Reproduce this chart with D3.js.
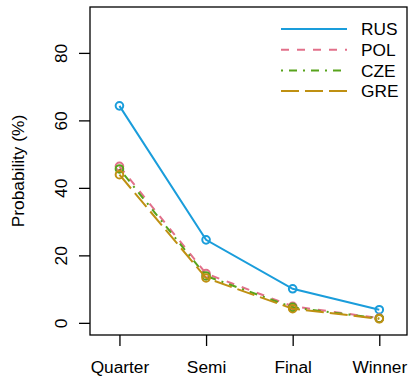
<!DOCTYPE html>
<html>
<head>
<meta charset="utf-8">
<script src="https://cdn.jsdelivr.net/npm/d3@7"></script>
<style>
  body { margin: 0; background: #fff; }
  text { font-family: "Liberation Sans", Arial, sans-serif; font-size: 17.3px; fill: #000; }
</style>
</head>
<body>
<svg id="chart" width="408" height="377"></svg>
<script>
// rounds on the x axis
const rounds = ['Quarter', 'Semi', 'Final', 'Winner']
const yTicks = [0, 20, 40, 60, 80]

// probabilities (%) per team
const rus = [64.3, 24.6, 10.1, 3.9]
const pol = [46.4, 14.6, 4.9, 1.4]
const cze = [45.6, 13.9, 4.6, 1.3]
const gre = [43.9, 13.3, 4.2, 1.2]

const teams = ['RUS', 'POL', 'CZE', 'GRE']
const colors = ['#1a9ddb', '#e2708a', '#58a31c', '#bf9012']
const dashes = [null, '8,8', '2,6,8,6', '18,6']
const series = [rus, pol, cze, gre]

const svg = d3.select('#chart')
const box = { left: 90, right: 407, top: 7, bottom: 335 }

const x = d3.scaleLinear()
  .domain([0.66, 4.32])
  .range([box.left, box.right])
const y = d3.scaleLinear()
  .domain([-3.6, 93.6])
  .range([box.bottom, box.top])

// plot frame
svg.append('rect')
  .attr('x', box.left)
  .attr('y', box.top)
  .attr('width', box.right - box.left)
  .attr('height', box.bottom - box.top)
  .attr('fill', 'none')
  .attr('stroke', '#000')
  .attr('stroke-width', 1.3)

// x axis
const xAxis = svg.append('g')
  .attr('transform', 'translate(0,' + box.bottom + ')')
  .call(d3.axisBottom(x).tickValues([1, 2, 3, 4]).tickSize(11)
    .tickFormat((d, i) => rounds[i]))
xAxis.select('.domain').remove()
xAxis.selectAll('line').attr('stroke-width', 1.3)
xAxis.selectAll('text').attr('font-size', null).attr('font-family', null)
  .attr('dy', null).attr('y', 38)

// y axis
const yAxis = svg.append('g')
  .attr('transform', 'translate(' + box.left + ',0)')
  .call(d3.axisLeft(y).tickValues(yTicks).tickSize(11))
yAxis.select('.domain').remove()
yAxis.selectAll('line').attr('stroke-width', 1.3)
yAxis.selectAll('text')
  .attr('font-size', null).attr('font-family', null)
  .attr('x', null).attr('dy', null)
  .attr('text-anchor', 'middle')
  .attr('transform', 'translate(-23.5,0) rotate(-90)')

svg.append('text')
  .attr('text-anchor', 'middle')
  .attr('transform', 'translate(24,' + ((box.top + box.bottom) / 2) + ') rotate(-90)')
  .text('Probability (%)')

// lines + open circles
const line = d3.line()
  .x((d, i) => x(i + 1))
  .y(d => y(d))

series.forEach((vals, k) => {
  svg.append('path')
    .datum(vals)
    .attr('d', line)
    .attr('fill', 'none')
    .attr('stroke', colors[k])
    .attr('stroke-width', 2)
    .attr('stroke-dasharray', dashes[k])
  svg.append('g')
    .selectAll('circle')
    .data(vals)
    .enter()
    .append('circle')
    .attr('cx', (d, i) => x(i + 1))
    .attr('cy', d => y(d))
    .attr('r', 3.8)
    .attr('fill', 'none')
    .attr('stroke', colors[k])
    .attr('stroke-width', 2)
})

// legend
const legend = svg.append('g')
teams.forEach((t, k) => {
  const ly = 29 + k * 20.7
  legend.append('line')
    .attr('x1', 281).attr('x2', 347)
    .attr('y1', ly).attr('y2', ly)
    .attr('stroke', colors[k])
    .attr('stroke-width', 2)
    .attr('stroke-dasharray', dashes[k])
  legend.append('text')
    .attr('x', 361)
    .attr('y', ly + 6.3)
    .text(t)
})
</script>
</body>
</html>
